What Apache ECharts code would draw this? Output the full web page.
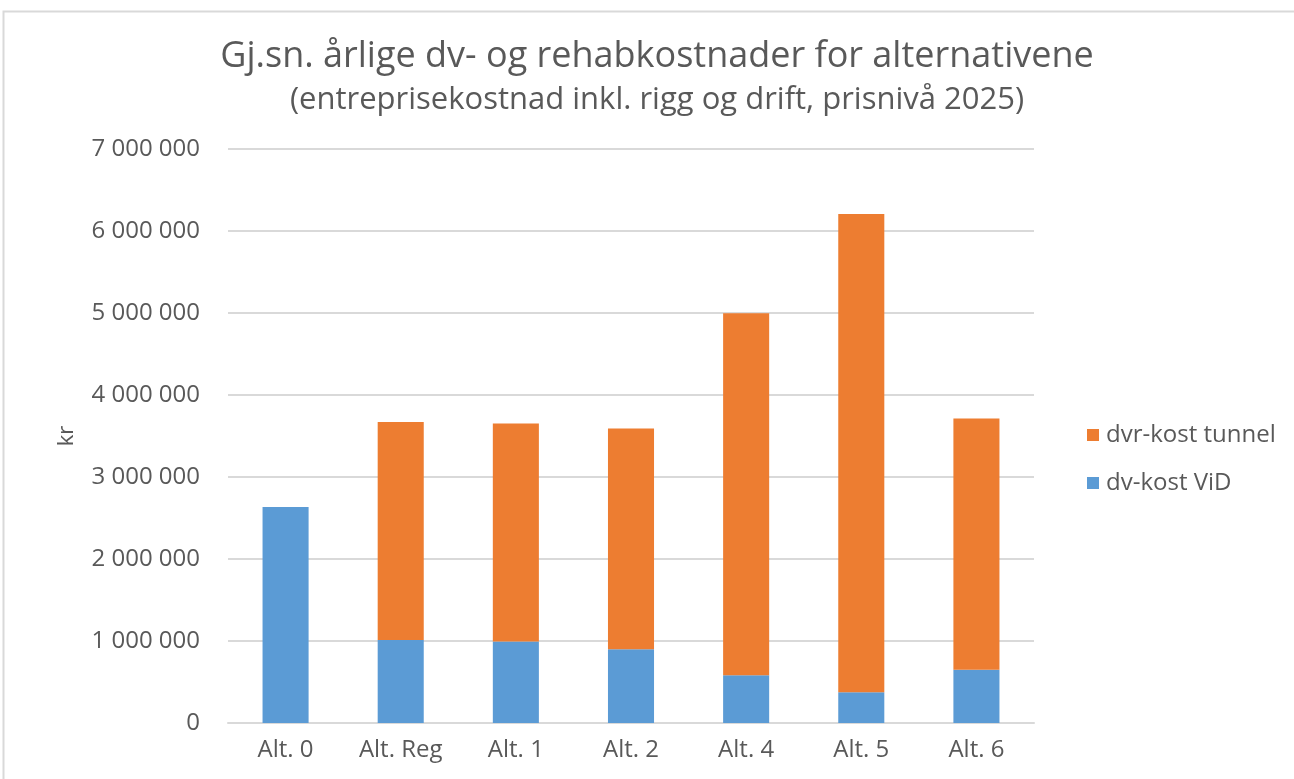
<!DOCTYPE html>
<html>
<head>
<meta charset="utf-8">
<script src="https://cdn.jsdelivr.net/npm/echarts@6/dist/echarts.min.js"></script>
<style>
html,body{margin:0;padding:0;background:#fff;}
#chart{width:1294px;height:779px;}
</style>
</head>
<body>
<div id="chart"></div>
<script>
const categories = ['Alt. 0', 'Alt. Reg', 'Alt. 1', 'Alt. 2', 'Alt. 4', 'Alt. 5', 'Alt. 6'];
const dvKostViD = [2634000, 1012000, 993000, 899000, 582000, 376000, 648000];
const dvrKostTunnel = [0, 2659000, 2658000, 2691000, 4414000, 5830000, 3064000];
const seriesNames = ['dvr-kost tunnel', 'dv-kost ViD'];
const titleText = 'Gj.sn. årlige dv- og rehabkostnader for alternativene';
const subtitleText = '(entreprisekostnad inkl. rigg og drift, prisnivå 2025)';
const yAxisName = 'kr';

const FONT = '"Open Sans"';
const TXT = '#595959';

function fmt(v) {
  return String(v).replace(/\B(?=(\d{3})+(?!\d))/g, ' ');
}

const chart = echarts.init(document.getElementById('chart'));
chart.setOption({
  animation: false,
  backgroundColor: '#fff',
  textStyle: { fontFamily: FONT, color: TXT },
  graphic: [{
    type: 'rect', shape: { x: 3.5, y: 11.5, width: 1400, height: 900 },
    style: { fill: 'none', stroke: '#d9d9d9', lineWidth: 2 }, silent: true, z: -1
  }],
  title: [{
    text: titleText, left: 652, textAlign: 'center', top: 34,
    textStyle: { fontFamily: FONT, fontSize: 36, fontWeight: 'normal', color: TXT }
  }, {
    text: subtitleText, left: 652, textAlign: 'center', top: 80,
    textStyle: { fontFamily: FONT, fontSize: 31, fontWeight: 'normal', color: TXT }
  }],
  legend: {
    orient: 'vertical', left: 1082, top: 418, itemGap: 24,
    itemWidth: 12, itemHeight: 12, icon: 'rect',
    data: seriesNames,
    textStyle: { fontFamily: FONT, fontSize: 24, lineHeight: 24, color: TXT, padding: [0, 0, 0, 2] }
  },
  grid: { left: 228, right: 260, top: 149, bottom: 56, containLabel: false },
  xAxis: {
    type: 'category', data: categories,
    axisLine: { lineStyle: { color: '#d9d9d9', width: 2 } },
    axisTick: { show: false },
    axisLabel: { fontFamily: FONT, fontSize: 24, color: TXT, margin: 15 }
  },
  yAxis: {
    type: 'value', min: 0, max: 7000000, interval: 1000000,
    name: yAxisName, nameLocation: 'middle', nameRotate: 90, nameGap: 150,
    nameTextStyle: { fontFamily: FONT, fontSize: 22, color: TXT },
    axisLine: { show: false }, axisTick: { show: false },
    axisLabel: { fontFamily: FONT, fontSize: 24, color: TXT, margin: 28, formatter: fmt },
    splitLine: { lineStyle: { color: '#d9d9d9', width: 2 } }
  },
  series: [{
    name: seriesNames[1], type: 'bar', stack: 'total', data: dvKostViD,
    barWidth: '40%', itemStyle: { color: '#5B9BD5' }
  }, {
    name: seriesNames[0], type: 'bar', stack: 'total', data: dvrKostTunnel,
    barWidth: '40%', itemStyle: { color: '#ED7D31' }
  }]
});
</script>
</body>
</html>
